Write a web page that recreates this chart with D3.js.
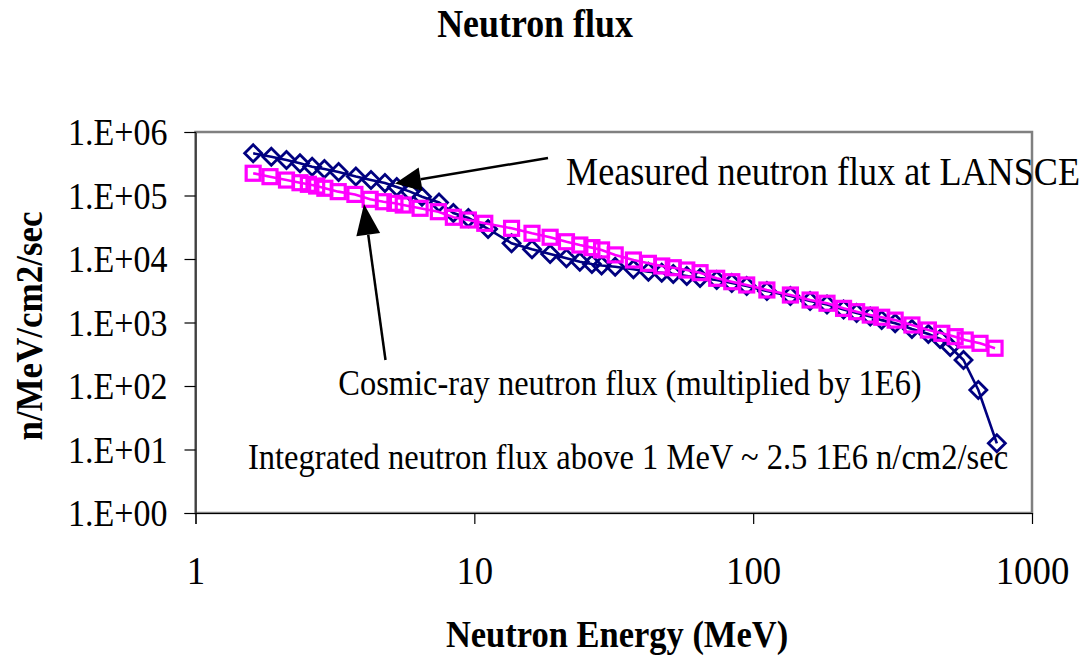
<!DOCTYPE html>
<html>
<head>
<meta charset="utf-8">
<script src="https://cdn.jsdelivr.net/npm/d3@7/dist/d3.min.js"></script>
<style>
  html, body { margin: 0; padding: 0; background: #fff; }
  svg text { font-family: "Liberation Serif", "Times New Roman", serif; fill: #000; }
</style>
</head>
<body>
<svg id="chart" width="1081" height="657"></svg>
<script>
// Measured LANSCE spectrum: energy (MeV) and flux (n/MeV/cm2/sec)
const measuredEnergy = [1.61, 1.87, 2.12, 2.37, 2.62, 2.90, 3.26, 3.76, 4.26, 4.78, 5.27, 5.88, 6.49, 7.47, 8.41, 9.52,
  11.2, 13.6, 16.1, 18.7, 21.4, 23.9, 26.4, 28.6, 32.0, 37.2, 42.1, 47.0, 51.7, 57.8, 64.5, 74.0, 83.8, 94.8,
  112, 136, 160, 184, 211, 235, 263, 289, 323, 371, 425, 468, 509, 568, 642, 748];
const measuredFlux = [462000, 408000, 362000, 321000, 284000, 261000, 235000, 199000, 175000, 157000, 136000, 115000, 95800, 77600, 53000, 44200,
  29700, 17700, 14200, 12000, 10300, 9070, 8340, 7910, 7560, 6880, 6310, 6090, 5800, 5400, 5020, 4670, 4190, 3760,
  3130, 2610, 2180, 1920, 1600, 1410, 1240, 1090, 971, 790, 659, 550, 411, 257, 86.5, 12.5];

// Cosmic-ray spectrum scaled by 1E6
const cosmicEnergy = [1.61, 1.85, 2.12, 2.37, 2.54, 2.72, 2.91, 3.25, 3.73, 4.23, 4.72, 5.19, 5.56, 6.39, 7.43, 8.41, 9.52,
  10.9, 13.6, 16.1, 18.7, 21.4, 23.9, 26.4, 28.6, 32.0, 37.2, 42.1, 47.0, 51.7, 57.8, 64.5, 74.0, 83.8, 94.8,
  112, 136, 160, 184, 211, 235, 263, 289, 323, 371, 425, 475, 530, 576, 651, 737];
const cosmicFlux = [224000, 198000, 175000, 159000, 150000, 141000, 130000, 115000, 104000, 87100, 79800, 75400, 70800, 62900, 55600, 45400, 41100,
  36500, 30400, 25400, 22000, 18700, 16600, 15100, 13900, 11600, 9640, 8550, 7760, 7290, 6710, 6090, 4970, 4390, 3900,
  3250, 2710, 2260, 2010, 1670, 1480, 1310, 1210, 1090, 914, 762, 676, 598, 530, 470, 393];

const xTicks = [1, 10, 100, 1000];
const yTicks = [1, 10, 100, 1000, 10000, 100000, 1000000];
const yTickLabels = ["1.E+00", "1.E+01", "1.E+02", "1.E+03", "1.E+04", "1.E+05", "1.E+06"];

const chartTitle = "Neutron flux";
const xTitle = "Neutron Energy (MeV)";
const yTitle = "n/MeV/cm2/sec";
const noteMeasured = "Measured neutron flux at LANSCE";
const noteCosmic = "Cosmic-ray neutron flux (multiplied by 1E6)";
const noteIntegrated = "Integrated neutron flux above 1 MeV ~ 2.5 1E6 n/cm2/sec";

const svg = d3.select("#chart");
const plot = { left: 195.5, right: 1032, top: 132, bottom: 513 };
const squeeze = 0.92; // narrow Times-like lettering

const x = d3.scaleLog().domain([1, 1000]).range([plot.left, plot.right]);
const y = d3.scaleLog().domain([1, 1e6]).range([plot.bottom, plot.top]);

// plot area frame
svg.append("rect")
  .attr("x", plot.left).attr("y", plot.top)
  .attr("width", plot.right - plot.left).attr("height", plot.bottom - plot.top)
  .attr("fill", "#fff").attr("stroke", "#808080").attr("stroke-width", 2.5);

// y axis
const yAxis = svg.append("g")
  .attr("transform", `translate(${plot.left},0)`)
  .call(d3.axisLeft(y).tickValues(yTicks).tickSize(11).tickPadding(0)
    .tickFormat((d, i) => yTickLabels[i]));
yAxis.select(".domain").attr("stroke", "#000").attr("stroke-width", 1);
yAxis.selectAll(".tick line").attr("stroke", "#000").attr("stroke-width", 1.2);
yAxis.selectAll(".tick text")
  .style("font-family", "'Liberation Serif', serif").attr("font-size", 37).attr("fill", "#000")
  .attr("x", null).attr("dy", "0.34em")
  .attr("transform", `translate(-28,0) scale(${squeeze},1)`);

// x axis
const xAxis = svg.append("g")
  .attr("transform", `translate(0,${plot.bottom})`)
  .call(d3.axisBottom(x).tickValues(xTicks).tickSize(11).tickPadding(0)
    .tickFormat(d3.format("d")));
xAxis.select(".domain").attr("stroke", "#000").attr("stroke-width", 1);
xAxis.selectAll(".tick line").attr("stroke", "#000").attr("stroke-width", 1.2);
xAxis.selectAll(".tick text")
  .style("font-family", "'Liberation Serif', serif").attr("font-size", 40).attr("fill", "#000")
  .attr("y", null).attr("dy", null)
  .attr("transform", `translate(0,71) scale(${squeeze},1)`);

// series
const measured = measuredEnergy.map((e, i) => ({ e, f: measuredFlux[i] }));
const cosmic = cosmicEnergy.map((e, i) => ({ e, f: cosmicFlux[i] }));
const line = d3.line().x(d => x(d.e)).y(d => y(d.f));

const gMeasured = svg.append("g");
gMeasured.append("path").datum(measured).attr("d", line)
  .attr("fill", "none").attr("stroke", "#000080").attr("stroke-width", 2.6);
gMeasured.selectAll("path.marker").data(measured).join("path")
  .attr("class", "marker")
  .attr("transform", d => `translate(${x(d.e)},${y(d.f)})`)
  .attr("d", "M0,-8.5L8.5,0L0,8.5L-8.5,0Z")
  .attr("fill", "none").attr("stroke", "#000080").attr("stroke-width", 2.8);

const gCosmic = svg.append("g");
gCosmic.append("path").datum(cosmic).attr("d", line)
  .attr("fill", "none").attr("stroke", "#FF00FF").attr("stroke-width", 2.6);
gCosmic.selectAll("rect").data(cosmic).join("rect")
  .attr("x", d => x(d.e) - 7).attr("y", d => y(d.f) - 7)
  .attr("width", 14).attr("height", 14)
  .attr("fill", "none").attr("stroke", "#FF00FF").attr("stroke-width", 3.2);

// annotations
function arrow(x1, y1, x2, y2, headLen, headWidth) {
  const a = Math.atan2(y2 - y1, x2 - x1);
  const bx = x2 - headLen * Math.cos(a), by = y2 - headLen * Math.sin(a);
  const px = -Math.sin(a) * headWidth / 2, py = Math.cos(a) * headWidth / 2;
  svg.append("line").attr("x1", x1).attr("y1", y1).attr("x2", bx).attr("y2", by)
    .attr("stroke", "#000").attr("stroke-width", 2.5);
  svg.append("path")
    .attr("d", `M${x2},${y2}L${bx + px},${by + py}L${bx - px},${by - py}Z`)
    .attr("fill", "#000");
}
arrow(548, 158, 395, 183.5, 26, 24);
arrow(385.5, 360, 364, 204, 31, 24);

function label(tx, ty, size, anchor, str, bold, rotate) {
  return svg.append("text")
    .attr("transform", `translate(${tx},${ty})${rotate ? " rotate(-90)" : ""} scale(${squeeze},1)`)
    .attr("text-anchor", anchor)
    .attr("font-size", size)
    .attr("font-weight", bold ? "bold" : null)
    .text(str);
}

label(566, 185, 39.3, "start", noteMeasured);
label(630, 395, 35.3, "middle", noteCosmic);
label(628, 469, 35.4, "middle", noteIntegrated);

// titles
label(535, 37, 39, "middle", chartTitle, true);
label(617, 647, 37.5, "middle", xTitle, true);
label(42, 326, 38, "middle", yTitle, true, true);
</script>
</body>
</html>
